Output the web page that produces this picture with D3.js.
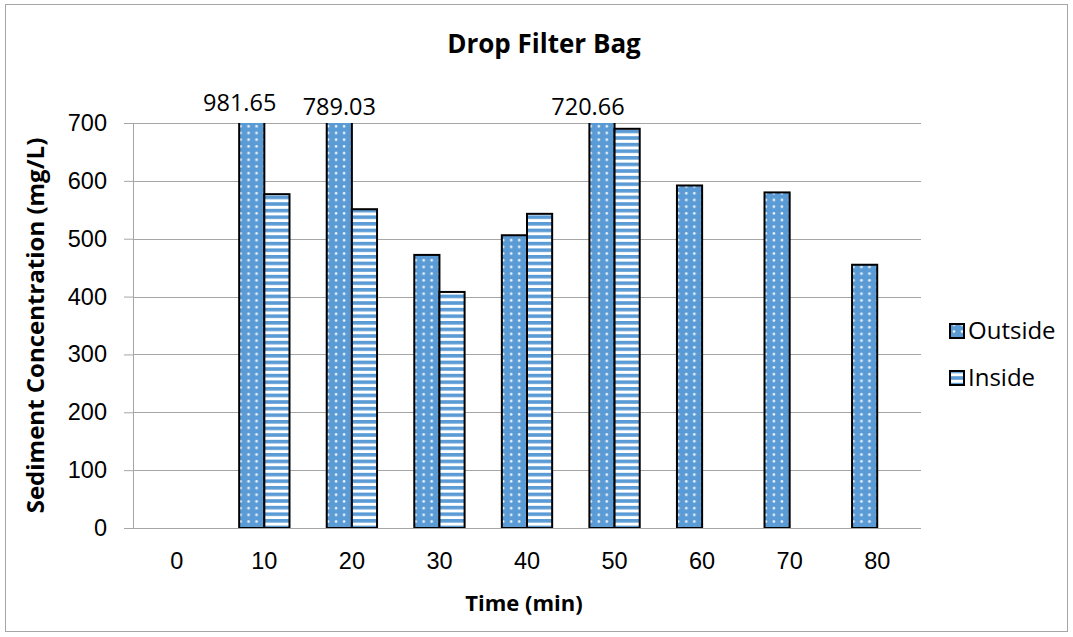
<!DOCTYPE html>
<html>
<head>
<meta charset="utf-8">
<script src="https://cdn.jsdelivr.net/npm/d3@7"></script>
<style>
  html, body { margin: 0; padding: 0; background: #fff; }
  svg { display: block; font-family: "Open Sans", "Noto Sans", sans-serif; }
</style>
</head>
<body>
<svg id="chart" width="1073" height="637"></svg>
<script>
// Sampling times (min)
const times = ["0", "10", "20", "30", "40", "50", "60", "70", "80"];
// Sediment concentration (mg/L); null = no sample
const outside = [null, 981.65, 789.03, 472, 506, 720.66, 592, 580, 455];
const inside  = [null, 577, 551, 408, 543, 690, null, null, null];
const seriesNames = ["Outside", "Inside"];
const yTicks = [0, 100, 200, 300, 400, 500, 600, 700];

const svg = d3.select("#chart");
const W = 1073, H = 637;
const margin = { left: 133, right: 152, top: 123, bottom: 109 };
const innerW = W - margin.left - margin.right;
const innerH = H - margin.top - margin.bottom;
const blue = "#5b9bd5";

// Fill patterns: dotted for Outside, horizontal stripes for Inside
const defs = svg.append("defs");
const dots = defs.append("pattern").attr("id", "pat-dots")
  .attr("patternUnits", "userSpaceOnUse").attr("width", 8).attr("height", 6.7);
dots.append("rect").attr("width", 8).attr("height", 6.7).attr("fill", blue);
dots.append("circle").attr("cx", 4).attr("cy", 3.3).attr("r", 1.3).attr("fill", "#eef4fb");

const stripes = defs.append("pattern").attr("id", "pat-stripes")
  .attr("patternUnits", "userSpaceOnUse").attr("width", 8).attr("height", 6.6);
stripes.append("rect").attr("width", 8).attr("height", 6.6).attr("fill", "#ffffff");
stripes.append("rect").attr("width", 8).attr("height", 3.6).attr("fill", blue);

const fills = ["url(#pat-dots)", "url(#pat-stripes)"];

// Chart frame
svg.append("rect").attr("x", 5.5).attr("y", 4.5)
  .attr("width", W - 11).attr("height", H - 10)
  .attr("fill", "#fff").attr("stroke", "#a6a6a6").attr("stroke-width", 1);

const g = svg.append("g").attr("transform", `translate(${margin.left},${margin.top})`);

const x = d3.scaleBand().domain(times).range([0, innerW]).paddingInner(0).paddingOuter(0);
const x1 = d3.scaleBand().domain(seriesNames).range([0, x.bandwidth()]).paddingInner(0).paddingOuter(0.74);
const y = d3.scaleLinear().domain([0, 700]).range([innerH, 0]);

// Gridlines
g.append("g").selectAll("line").data(yTicks.slice(1)).join("line")
  .attr("x1", 0).attr("x2", innerW)
  .attr("y1", d => Math.round(y(d)) + 0.5).attr("y2", d => Math.round(y(d)) + 0.5)
  .attr("stroke", "#a6a6a6").attr("stroke-width", 1);

// Bars (clipped to the plot area, values above 700 run off the top)
g.append("clipPath").attr("id", "plot-clip").append("rect")
  .attr("x", 0).attr("y", 0).attr("width", innerW).attr("height", innerH);

const rows = times.map((t, i) => ({ t, vals: [outside[i], inside[i]] }));
const barG = g.append("g").attr("clip-path", "url(#plot-clip)");
barG.selectAll("g").data(rows).join("g")
  .attr("transform", d => `translate(${x(d.t)},0)`)
  .selectAll("rect")
  .data(d => d.vals.map((v, k) => ({ v, k })).filter(e => e.v != null))
  .join("rect")
  .attr("x", e => x1(seriesNames[e.k]))
  .attr("width", x1.bandwidth())
  .attr("y", e => y(Math.min(e.v, 700)) - (e.v > 700 ? 3 : 0))
  .attr("height", e => innerH - y(Math.min(e.v, 700)) + (e.v > 700 ? 3 : 0))
  .attr("fill", e => fills[e.k])
  .attr("stroke", "#000").attr("stroke-width", 2);

// Axes
const yAxis = d3.axisLeft(y).tickValues(yTicks).tickSize(9).tickPadding(17).tickFormat(d3.format("d"));
const yg = g.append("g").call(yAxis);
yg.select(".domain").attr("stroke", "#a6a6a6").attr("d", `M0.5,0V${innerH}`);
yg.selectAll(".tick line").attr("stroke", "#a6a6a6");
yg.selectAll("text").attr("font-size", 23.5).attr("fill", "#000");

const xAxis = d3.axisBottom(x).tickSize(0).tickPadding(24);
const xg = g.append("g").attr("transform", `translate(0,${innerH})`).call(xAxis);
xg.select(".domain").attr("stroke", "#a6a6a6").attr("d", `M-9,0.5H${innerW}`);
xg.selectAll("text").attr("font-size", 23.5).attr("fill", "#000");

// Value labels for bars that exceed the axis range
const labelNudge = { "10": [-12, -4], "20": [0, 0], "50": [-14, 0] };
const over = rows.filter(d => d.vals[0] != null && d.vals[0] > 700);
g.selectAll(".vlabel").data(over).join("text")
  .attr("class", "vlabel")
  .attr("x", d => x(d.t) + x1("Outside") + x1.bandwidth() / 2 + labelNudge[d.t][0])
  .attr("y", d => -8.5 + labelNudge[d.t][1])
  .attr("text-anchor", "middle").attr("font-size", 23.5).attr("fill", "#000")
  .text(d => d3.format(".2f")(d.vals[0]));

// Titles
svg.append("text").attr("x", 544).attr("y", 53)
  .attr("text-anchor", "middle").attr("font-size", 26).attr("font-weight", "bold")
  .text("Drop Filter Bag");

svg.append("text").attr("x", margin.left + innerW / 2 - 3).attr("y", 611)
  .attr("text-anchor", "middle").attr("font-size", 22).attr("font-weight", "bold")
  .text("Time (min)");

svg.append("text")
  .attr("transform", `translate(44,${margin.top + innerH / 2}) rotate(-90)`)
  .attr("text-anchor", "middle").attr("font-size", 24).attr("font-weight", "bold")
  .text("Sediment Concentration (mg/L)");

// Legend
const legend = svg.append("g").attr("transform", "translate(950,0)");
const legendY = [331, 378];
seriesNames.forEach((name, k) => {
  legend.append("rect").attr("x", 0).attr("y", legendY[k] - 7)
    .attr("width", 14).attr("height", 14)
    .attr("fill", fills[k]).attr("stroke", "#000").attr("stroke-width", 2);
  legend.append("text").attr("x", 18).attr("y", legendY[k])
    .attr("dy", "0.35em").attr("font-size", 24).attr("fill", "#000")
    .text(name);
});
</script>
</body>
</html>
